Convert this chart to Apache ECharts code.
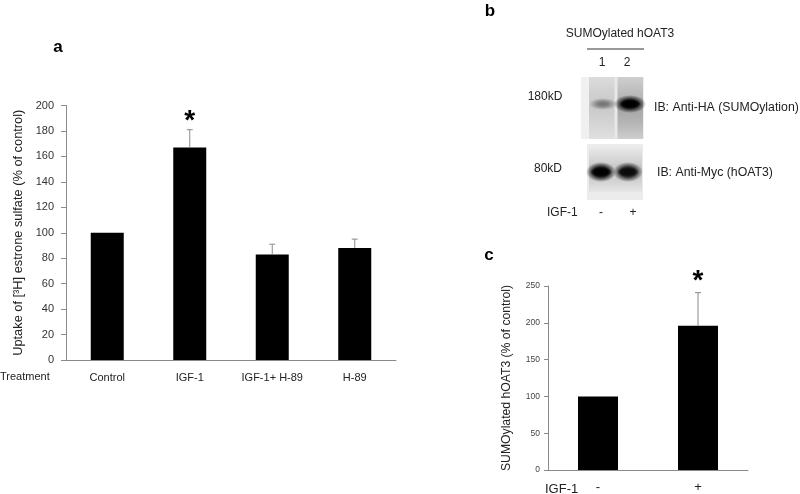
<!DOCTYPE html>
<html>
<head>
<meta charset="utf-8">
<script src="https://cdn.jsdelivr.net/npm/echarts@6/dist/echarts.min.js"></script>
<style>html,body{margin:0;padding:0;background:#fff;}#c{width:800px;height:494px;}</style>
</head>
<body>
<div id="c"></div>
<script>
// Panel a data
var catsA = ['Control', 'IGF-1', 'IGF-1+ H-89', 'H-89'];
var valsA = [100, 167, 83, 88];
var errTopA = [100, 181, 91, 95];
var sigA = [0, 1, 0, 0];
var ticksA = [0, 20, 40, 60, 80, 100, 120, 140, 160, 180, 200];

// Panel c data
var catsC = ['-', '+'];
var valsC = [100, 196];
var errTopC = [100, 241];
var sigC = [0, 1];
var ticksC = [0, 50, 100, 150, 200, 250];

var FONT = '"Liberation Sans", Arial, sans-serif';
var AX = '#8a8a8a';

function errData(vals, tops, sig) {
  return vals.map(function (v, i) { return [i, v, tops[i], sig[i]]; });
}

function errRender(starSize, starGap) {
  return function (params, api) {
    var i = api.value(0);
    var v = api.value(1);
    var t = api.value(2);
    var s = api.value(3);
    var p0 = api.coord([i, v]);
    var p1 = api.coord([i, t]);
    var children = [];
    if (t > v) {
      children.push({ type: 'line', shape: { x1: p0[0], y1: p0[1], x2: p1[0], y2: p1[1] }, style: { stroke: AX, lineWidth: 1 } });
      children.push({ type: 'line', shape: { x1: p1[0] - 3, y1: p1[1], x2: p1[0] + 3, y2: p1[1] }, style: { stroke: AX, lineWidth: 1 } });
    }
    if (s) {
      children.push({ type: 'text', x: p1[0], y: p1[1] - starGap, style: { text: '*', font: 'bold ' + starSize + 'px ' + FONT, fill: '#000', align: 'center', verticalAlign: 'middle' } });
    }
    return { type: 'group', children: children };
  };
}

var chart = echarts.init(document.getElementById('c'), null, { renderer: 'canvas' });

function vgrad(stops) {
  return { type: 'linear', x: 0, y: 0, x2: 0, y2: 1, colorStops: stops.map(function (c, k) { return { offset: k / (stops.length - 1), color: c }; }) };
}
function blob(cx, cy, rx, ry, rgb, a, core, z) {
  return { type: 'circle', x: cx, y: cy, scaleX: 1, scaleY: ry / rx, shape: { cx: 0, cy: 0, r: rx }, z: z || 3,
    style: { fill: { type: 'radial', x: 0.5, y: 0.5, r: 0.5, colorStops: [
      { offset: 0, color: 'rgba(' + rgb + ',' + a + ')' },
      { offset: core, color: 'rgba(' + rgb + ',' + (a * 0.9) + ')' },
      { offset: 1, color: 'rgba(' + rgb + ',0)' }] } } };
}

var blotGraphics = [
  // top blot
  { type: 'rect', shape: { x: 581, y: 77, width: 63, height: 62 }, style: { fill: '#f0f0f0' }, z: 1 },
  { type: 'rect', shape: { x: 589, y: 77, width: 26, height: 62 }, style: { fill: vgrad(['#dcdcdc', '#d0d0d0', '#cacaca', '#d4d4d4', '#e0e0e0']) }, z: 2 },
  { type: 'rect', shape: { x: 617, y: 77, width: 26, height: 62 }, style: { fill: vgrad(['#cfcfcf', '#bcbcbc', '#a6a6a6', '#b6b6b6', '#cecece']) }, z: 2 },
  { type: 'rect', shape: { x: 614.5, y: 77, width: 3, height: 62 }, style: { fill: '#e8e8e8' }, z: 2 },
  blob(603, 104, 14, 6, '95,95,95', 0.8, 0.35),
  blob(630, 104, 16, 9, '0,0,0', 1, 0.45),
  blob(630, 104, 11, 4.5, '0,0,0', 1, 0.6, 4),
  // bottom blot
  { type: 'rect', shape: { x: 587, y: 144, width: 56, height: 56 }, style: { fill: '#ececec' }, z: 1 },
  { type: 'rect', shape: { x: 589, y: 148, width: 53, height: 44 }, style: { fill: vgrad(['#e8e8e8', '#d6d6d6', '#c4c4c4', '#d2d2d2', '#e6e6e6']) }, z: 2 },
  blob(601, 172, 15, 10, '10,10,10', 1, 0.5),
  blob(628, 172, 15, 10, '30,30,30', 1, 0.5),
  blob(601, 172, 11, 5, '0,0,0', 1, 0.6, 4),
  blob(628, 172, 11, 5, '10,10,10', 1, 0.6, 4)
];

function txt(x, y, text, size, opts) {
  opts = opts || {};
  return { type: 'text', x: x, y: y, z: 10, style: { text: text, font: (opts.bold ? 'bold ' : '') + size + 'px ' + FONT, fill: opts.color || '#000', align: opts.align || 'left', verticalAlign: 'middle' } };
}

var texts = [
  txt(58, 47, 'a', 17, { bold: true, align: 'center' }),
  txt(490, 11, 'b', 17, { bold: true, align: 'center' }),
  txt(489, 255, 'c', 17, { bold: true, align: 'center' }),
  txt(0, 377, 'Treatment', 11, { color: '#222' }),
  txt(620, 34, 'SUMOylated hOAT3', 12, { align: 'center', color: '#222' }),
  { type: 'line', shape: { x1: 587, y1: 49, x2: 644, y2: 49 }, style: { stroke: '#777', lineWidth: 1.5 }, z: 10 },
  txt(602, 63, '1', 12, { align: 'center', color: '#222' }),
  txt(627, 63, '2', 12, { align: 'center', color: '#222' }),
  txt(545, 97, '180kD', 12, { align: 'center', color: '#222' }),
  txt(654, 108, 'IB: Anti-HA (SUMOylation)', 12.3, { color: '#222' }),
  txt(548, 169, '80kD', 12, { align: 'center', color: '#222' }),
  txt(657, 173, 'IB: Anti-Myc (hOAT3)', 12.3, { color: '#222' }),
  txt(547, 213, 'IGF-1', 12, { color: '#222' }),
  txt(601, 213, '-', 12, { align: 'center', color: '#222' }),
  txt(633, 213, '+', 12, { align: 'center', color: '#222' }),
  txt(545, 489, 'IGF-1', 13, { color: '#222' })
];

var option = {
  animation: false,
  backgroundColor: '#fff',
  grid: [
    { left: 66, top: 105.5, width: 330, height: 254.5 },
    { left: 548, top: 286, width: 200, height: 186 }
  ],
  xAxis: [
    { type: 'category', gridIndex: 0, data: catsA, axisLine: { lineStyle: { color: AX } }, axisTick: { show: false },
      axisLabel: { fontFamily: FONT, fontSize: 11, color: '#222', margin: 12 } },
    { type: 'category', gridIndex: 1, data: catsC, axisLine: { lineStyle: { color: AX } }, axisTick: { show: false },
      axisLabel: { fontFamily: FONT, fontSize: 13, color: '#222', margin: 11 } }
  ],
  yAxis: [
    { type: 'value', gridIndex: 0, min: ticksA[0], max: ticksA[ticksA.length - 1], interval: ticksA[1] - ticksA[0],
      name: 'Uptake of [\u00B3H] estrone sulfate (% of control)', nameLocation: 'middle', nameGap: 41,
      nameTextStyle: { fontFamily: FONT, fontSize: 12.8, color: '#222' },
      axisLine: { show: true, lineStyle: { color: AX } }, axisTick: { show: true, length: 5, lineStyle: { color: AX } },
      splitLine: { show: false }, axisLabel: { fontFamily: FONT, fontSize: 11, color: '#333', margin: 12 } },
    { type: 'value', gridIndex: 1, min: ticksC[0], max: ticksC[ticksC.length - 1], interval: ticksC[1] - ticksC[0],
      name: 'SUMOylated hOAT3 (% of control)', nameLocation: 'middle', nameGap: 35,
      nameTextStyle: { fontFamily: FONT, fontSize: 12.2, color: '#222' },
      axisLine: { show: true, lineStyle: { color: AX } }, axisTick: { show: true, length: 4, lineStyle: { color: AX } },
      splitLine: { show: false }, axisLabel: { fontFamily: FONT, fontSize: 8.5, color: '#444', margin: 8 } }
  ],
  series: [
    { type: 'bar', xAxisIndex: 0, yAxisIndex: 0, data: valsA, barWidth: '40%', itemStyle: { color: '#000' }, z: 2 },
    { type: 'custom', xAxisIndex: 0, yAxisIndex: 0, data: errData(valsA, errTopA, sigA), renderItem: errRender(28, 8), z: 3 },
    { type: 'bar', xAxisIndex: 1, yAxisIndex: 1, data: valsC, barWidth: '40%', itemStyle: { color: '#000' }, z: 2 },
    { type: 'custom', xAxisIndex: 1, yAxisIndex: 1, data: errData(valsC, errTopC, sigC), renderItem: errRender(28, 11), z: 3 }
  ],
  graphic: blotGraphics.concat(texts)
};
chart.setOption(option);
</script>
</body>
</html>
